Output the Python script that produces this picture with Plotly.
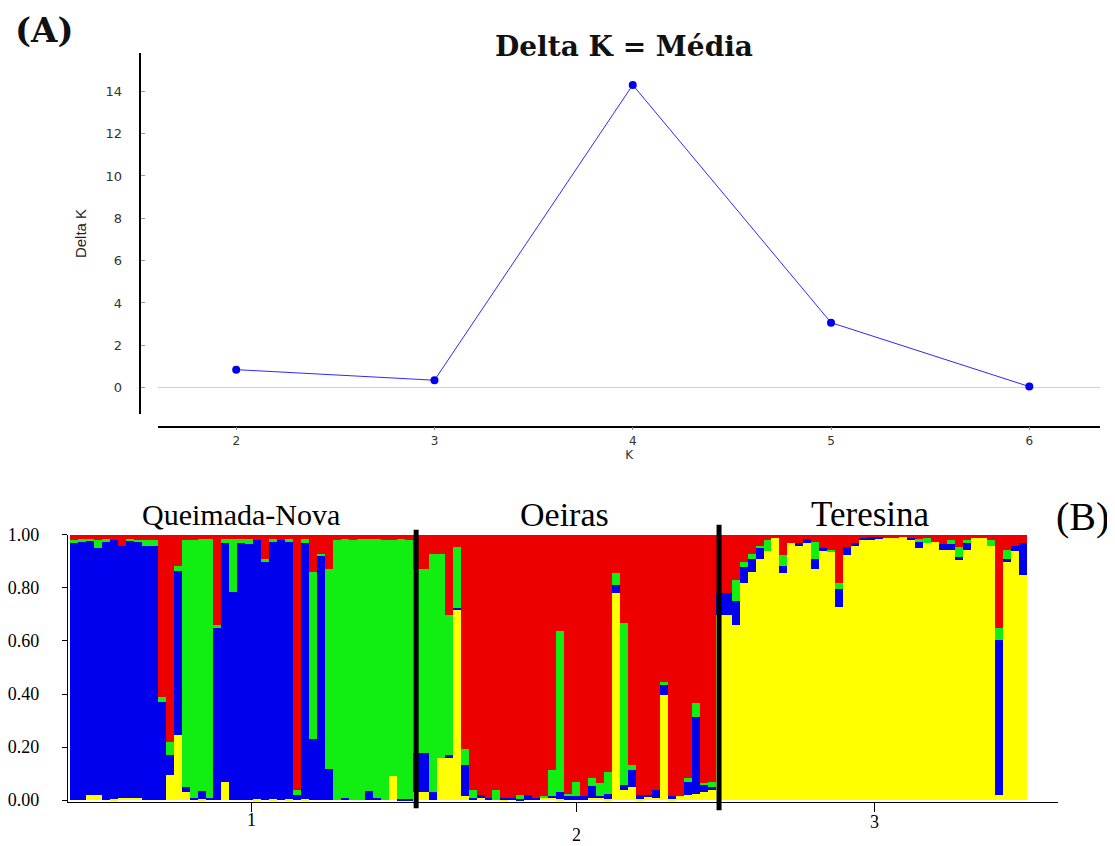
import plotly.graph_objects as go

W, H = 1115, 846
OFF = 8  # page body margin


def fx(px):
    return (px - OFF) / W


def fy(py):
    fig_y = (py - 9) / 0.9775 - OFF
    return 1 - fig_y / H


# ---------------- Panel A data ----------------
k_values = [2, 3, 4, 5, 6]
delta_k = [0.85, 0.35, 14.3, 3.07, 0.05]
a_yticks = [0, 2, 4, 6, 8, 10, 12, 14]

# ---------------- Panel B data (STRUCTURE membership, K=4) ----------------
pop_names = ["Queimada-Nova", "Oeiras", "Teresina"]
pop_ticks = ["1", "2", "3"]
pop_sizes = [43, 38, 39]
pop_tick_pos = [22.25, 63.1, 100.5]
b_yticks = [0, 0.2, 0.4, 0.6, 0.8, 1.0]
b_yticktext = ["0.00", "0.20", "0.40", "0.60", "0.80", "1.00"]

yellow = [
    # Queimada-Nova
    0, 0, .02, .02, 0, .005, .01, .01, .01, 0, 0, 0, .094, .245, .03, 0, .005, 0, 0, .07, 0, 0,
    0, .005, 0, .005, 0, .005, 0, .005, 0, 0, 0, 0, 0, 0, 0, 0, 0, 0, .09, 0, 0,
    # Oeiras
    .03, .03, 0, .16, .16, .72, .015, 0, .01, 0, 0, .005, 0, 0, 0, 0, .01, .01, .005, 0, 0,
    0, .01, .01, .005, .78, .038, .05, .005, .015, .01, .396, .005, .015, .02, .025, .03, .04,
    # Teresina
    .70, .70, .66, .82, .86, .91, .94, .99, .855, .97, .96, .97, .87, .94, .935, .73, .925, .96,
    .98, .98, .985, .99, .99, .995, .98, .95, .97, .975, .945, .945, .905, .945, .99, .99, .96,
    .02, .90, .94, .85,
]
blue = [
    .97, .975, .96, .93, .975, .975, .95, .97, .965, .96, .96, .37, .076, .62, .02, .01, .03, .01,
    .65, .90, .785, .97, .965, .975, .90, .97, .98, .97, .02, .965, .23, .92, .12, 0, .01, 0, 0,
    .035, .01, 0, 0, .005, .005,
    .15, .15, .03, 0, .01, .005, .12, .01, .01, .01, 0, .005, .01, .005, .02, .01, 0, .005, .025,
    .02, .015, .015, .045, .005, .02, .03, .019, .063, .015, .005, .03, .04, .01, 0, .05, .29,
    .03, .01,
    .08, .08, .09, .06, .05, .04, 0, 0, .03, 0, .01, .015, .04, .01, 0, .065, .03, .01, .01, .015,
    .01, 0, 0, 0, .01, .025, 0, 0, .02, .02, .012, .025, 0, 0, 0, .585, .01, .02, .12,
]
green = [
    .01, .01, .005, .03, .01, 0, 0, .005, .005, .02, .02, .02, .05, .02, .93, .97, .95, .975,
    .01, .015, .20, .015, .02, 0, .01, .01, 0, .01, .02, .015, .63, .01, .75, .98, .975, .98,
    .985, .95, .975, .98, .89, .98, .975,
    .69, .69, .90, .77, .53, .23, .06, .03, 0, 0, .04, 0, 0, .015, 0, 0, .005, .10, .61, .005,
    .055, 0, .03, .05, .08, .045, .61, .02, 0, 0, 0, .01, 0, 0, .015, .05, .005, .02,
    0, 0, .08, .02, .02, .01, .04, 0, .04, 0, 0, 0, .065, 0, .01, .025, 0, 0, 0, 0, 0, 0, 0, 0,
    0, .01, .02, 0, 0, .015, .038, .01, 0, 0, .02, .045, .035, 0, 0,
]
red = [
    .02, .015, .015, .02, .015, .02, .04, .015, .02, .02, .02, .61, .78, .115, .02, .02, .015,
    .015, .34, .015, .015, .015, .015, .02, .09, .015, .02, .015, .96, .015, .14, .07, .13, .02,
    .015, .02, .015, .015, .015, .02, .02, .015, .02,
    .13, .13, .07, .07, .30, .045, .805, .96, .98, .99, .96, .99, .99, .98, .98, .99, .985, .885,
    .36, .975, .93, .985, .915, .935, .895, .145, .333, .867, .98, .98, .96, .554, .985, .985,
    .915, .635, .935, .93,
    .22, .22, .17, .10, .07, .04, .02, .01, .075, .03, .03, .015, .025, .05, .055, .18, .045, .03,
    .01, .005, .005, .01, .01, .005, .01, .015, .01, .025, .035, .02, .045, .02, .01, .01, .02,
    .35, .055, .04, .03,
]

cluster_colors = {"yellow": "#FFFF00", "blue": "#0000EE", "green": "#11EE11", "red": "#EE0000"}

individuals = list(range(sum(pop_sizes)))

fig = go.Figure()

# Panel A
fig.add_trace(go.Scatter(
    x=k_values, y=delta_k, mode="lines+markers",
    line=dict(color="#2a2aff", width=1),
    marker=dict(color="#0000ee", size=8),
    xaxis="x", yaxis="y", hoverinfo="x+y",
))

# Panel B (stack order bottom->top: yellow, blue, green, red)
for name, vals in [("yellow", yellow), ("blue", blue), ("green", green), ("red", red)]:
    fig.add_trace(go.Bar(
        x=individuals, y=vals, width=1,
        marker=dict(color=cluster_colors[name], line=dict(width=0)),
        xaxis="x2", yaxis="y2", name=name,
    ))

# population boundaries & centers from counts
bounds = []
centers = []
start = 0
for n in pop_sizes:
    centers.append(start + (n - 1) / 2)
    start += n
    bounds.append(start - 0.5)

shapes = []
for b, (ytop, ybot) in zip(bounds[:2], [(528, 806), (523, 808)]):
    shapes.append(dict(type="line", xref="x2", yref="paper", x0=b + 0.45, x1=b + 0.45,
                       y0=fy(ybot), y1=fy(ytop), line=dict(color="black", width=5)))

serif = "Liberation Serif, Times New Roman, serif"
wide_serif = "DejaVu Serif, serif"
annotations = [
    dict(text="<b>(A)</b>", x=fx(9), y=fy(29), xref="paper", yref="paper", xanchor="left",
         yanchor="middle", showarrow=False, font=dict(family=wide_serif, size=34, color="#111"),),
    dict(text="<b>Delta K = Média</b>", x=fx(622), y=fy(45), xref="paper", yref="paper",
         xanchor="center", yanchor="middle", showarrow=False,
         font=dict(family=wide_serif, size=28, color="#111")),
    dict(text="(B)", x=fx(1082), y=fy(515), xref="paper", yref="paper", xanchor="center",
         yanchor="middle", showarrow=False, font=dict(family=serif, size=40, color="black")),
]
label_sizes = [30, 34, 35]
for c, nm, sz in zip(centers, pop_names, label_sizes):
    annotations.append(dict(text=nm, x=c, y=fy(513), xref="x2", yref="paper",
                            xanchor="center", yanchor="middle", showarrow=False,
                            font=dict(family=serif, size=sz, color="black")))
for c, t, ypx in zip(pop_tick_pos, pop_ticks, [818, 833, 820]):
    annotations.append(dict(text=t, x=c, y=fy(ypx), xref="x2", yref="paper",
                            xanchor="center", yanchor="middle", showarrow=False,
                            font=dict(family=serif, size=18, color="black")))

# panel A y range from reference pixel positions (14 at y=90, 0 at y=386)
a_top, a_bot, a_y14, a_y0 = fy(52), fy(412), fy(90), fy(386)
a_unit = (a_y14 - a_y0) / 14
a_range = [(a_bot - a_y0) / a_unit, (a_top - a_y0) / a_unit]

fig.update_layout(
    width=W, height=H,
    margin=dict(l=0, r=0, t=0, b=0),
    paper_bgcolor="white", plot_bgcolor="white",
    showlegend=False, barmode="stack", bargap=0,
    shapes=shapes, annotations=annotations,
    xaxis=dict(
        domain=[fx(155), fx(1100)], range=[1.608, 6.357], anchor="free", position=fy(425),
        showline=True, linecolor="black", linewidth=1.5, ticks="outside", ticklen=3,
        tickcolor="#888", tickvals=k_values, showgrid=False, zeroline=False,
        tickfont=dict(family="DejaVu Sans, sans-serif", size=12, color="#333"),
        title=dict(text="K", font=dict(family="DejaVu Sans, sans-serif", size=12, color="#333"),
                   standoff=0),
    ),
    yaxis=dict(
        domain=[a_bot, a_top], range=a_range, anchor="free", position=fx(136),
        showline=True, linecolor="black", linewidth=2, ticks="inside", ticklen=4,
        tickcolor="#999", tickvals=a_yticks, showgrid=False,
        zeroline=True, zerolinecolor="#d0d0d0", zerolinewidth=1,
        tickfont=dict(family="DejaVu Sans, sans-serif", size=13, color="#333"),
        ticklabelstandoff=14,
        title=dict(text="Delta K", font=dict(family="Liberation Sans Narrow, Arial Narrow, sans-serif",
                                            size=15, color="#222"), standoff=14),
    ),
    xaxis2=dict(
        domain=[fx(64), fx(1058)], range=[-0.75, 123.5], anchor="y2",
        showline=True, linecolor="black", linewidth=1, ticks="outside", ticklen=9,
        tickcolor="black", tickvals=pop_tick_pos, showticklabels=False,
        showgrid=False, zeroline=False,
    ),
    yaxis2=dict(
        domain=[fy(800), fy(533)], range=[-0.0075, 1.0], anchor="x2",
        showline=True, linecolor="black", linewidth=1, ticks="outside", ticklen=5,
        tickcolor="black", tickvals=b_yticks, ticktext=b_yticktext,
        tickfont=dict(family=serif, size=18, color="black"), ticklabelstandoff=19,
        showgrid=False, zeroline=False,
    ),
)

fig.write_html("out.html")
